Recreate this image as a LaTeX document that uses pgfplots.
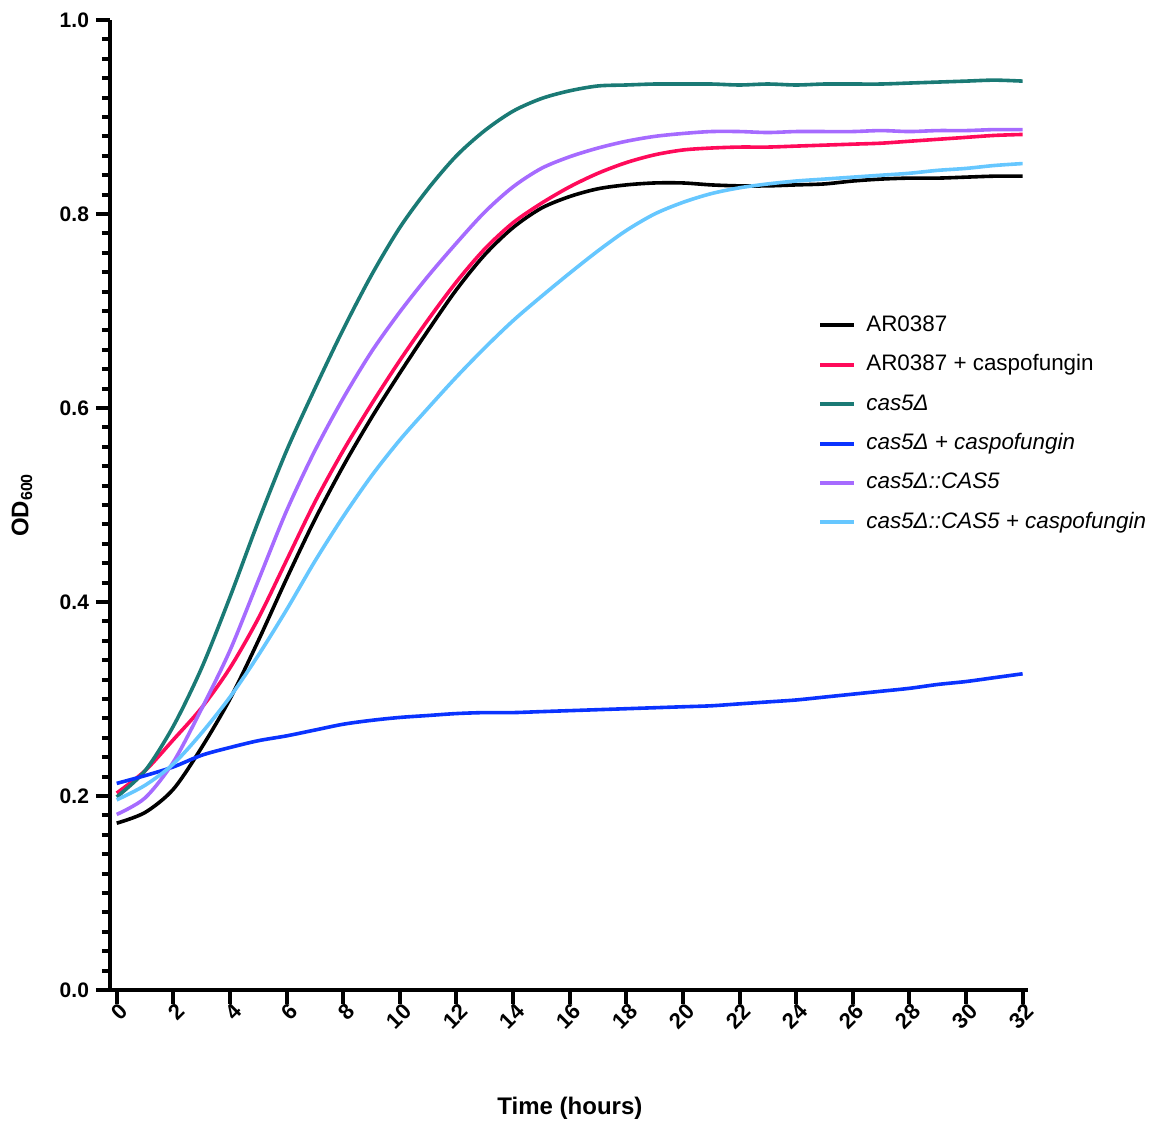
\documentclass[border=0pt]{standalone}
\usepackage{fontspec}
\setmainfont{Liberation Sans}
\usepackage{pgfplots}
\usepackage{pgfplotstable}
\pgfplotsset{compat=1.18}
\definecolor{cAR}{HTML}{000000}
\definecolor{cARc}{HTML}{FF0A5A}
\definecolor{cCas}{HTML}{1A7A75}
\definecolor{cCasc}{HTML}{0A33FF}
\definecolor{cComp}{HTML}{A66BFF}
\definecolor{cCompc}{HTML}{66C7FF}

% OD600 over time, one column per strain / condition
\pgfplotstableread{
t  ar    arc   cas   casc  comp  compc
0  0.172 0.203 0.199 0.213 0.181 0.196
1  0.183 0.226 0.226 0.221 0.198 0.211
2  0.207 0.258 0.272 0.230 0.235 0.233
3  0.250 0.291 0.332 0.242 0.290 0.265
4  0.300 0.332 0.405 0.250 0.350 0.302
5  0.360 0.383 0.483 0.257 0.422 0.345
6  0.424 0.443 0.556 0.262 0.494 0.392
7  0.485 0.503 0.620 0.268 0.556 0.442
8  0.540 0.556 0.681 0.274 0.610 0.488
9  0.590 0.604 0.737 0.278 0.658 0.530
10 0.636 0.649 0.786 0.281 0.699 0.567
11 0.680 0.691 0.826 0.283 0.736 0.600
12 0.722 0.730 0.860 0.285 0.770 0.632
13 0.758 0.764 0.886 0.286 0.802 0.662
14 0.786 0.791 0.906 0.286 0.828 0.690
15 0.806 0.811 0.919 0.287 0.847 0.715
16 0.818 0.828 0.927 0.288 0.859 0.739
17 0.826 0.842 0.932 0.289 0.868 0.762
18 0.830 0.853 0.933 0.290 0.875 0.783
19 0.832 0.861 0.934 0.291 0.880 0.800
20 0.832 0.866 0.934 0.292 0.883 0.812
21 0.830 0.868 0.934 0.293 0.885 0.821
22 0.829 0.869 0.933 0.295 0.885 0.827
23 0.829 0.869 0.934 0.297 0.884 0.831
24 0.830 0.870 0.933 0.299 0.885 0.834
25 0.831 0.871 0.934 0.302 0.885 0.836
26 0.834 0.872 0.934 0.305 0.885 0.838
27 0.836 0.873 0.934 0.308 0.886 0.840
28 0.837 0.875 0.935 0.311 0.885 0.842
29 0.837 0.877 0.936 0.315 0.886 0.845
30 0.838 0.879 0.937 0.318 0.886 0.847
31 0.839 0.881 0.938 0.322 0.887 0.850
32 0.839 0.882 0.937 0.326 0.887 0.852
}\growth

\begin{document}
\begin{tikzpicture}
\path[use as bounding box] (-55pt,-65.5pt) rectangle (522.5pt,495pt);
\begin{axis}[
  at={(0,0)}, anchor=south west,
  scale only axis, width=459pt, height=485pt,
  xmin=-0.237, xmax=32.19, ymin=0, ymax=1,
  axis lines=left, axis line style={-, line width=2pt},
  xtick={0,2,...,32}, ytick={0,0.2,0.4,0.6,0.8,1},
  minor y tick num=9,
  tick align=outside, tick style={line width=2pt, black},
  major tick length=7pt, minor tick length=4pt,
  /pgf/number format/assume math mode=true,
  yticklabel style={/pgf/number format/.cd, fixed, fixed zerofill, precision=1},
  ticklabel style={font=\bfseries\fontsize{10.5}{12}\selectfont},
  xticklabel style={rotate=45, anchor=east, xshift=2.5pt, yshift=-4pt, inner sep=1pt,
    font=\bfseries\fontsize{11}{12}\selectfont},
  xlabel={\textbf{Time (hours)}}, ylabel={\textbf{OD\textsubscript{600}}},
  label style={font=\fontsize{12}{14}\selectfont},
  xlabel style={at={(axis description cs:0.501,-0.1216)}, anchor=center},
  ylabel style={at={(axis description cs:-0.0959,0.5)}, anchor=center},
  every axis plot/.append style={line width=1.8pt, smooth},
  legend image code/.code={\draw[#1, line width=2pt] (0pt,0pt) -- (17pt,0pt);},
  legend style={at={(rel axis cs:0.7712,0.698)}, anchor=north west, draw=none, fill=none,
    inner sep=0pt, column sep=5pt, row sep=7.7pt,
    font=\fontsize{11.2}{13}\selectfont,
    nodes={inner sep=0pt, text height=9pt, text depth=3pt}},
  legend cell align=left,
]
\addplot[cAR] table[x=t, y=ar] {\growth};
\addplot[cARc] table[x=t, y=arc] {\growth};
\addplot[cCas] table[x=t, y=cas] {\growth};
\addplot[cCasc] table[x=t, y=casc] {\growth};
\addplot[cComp] table[x=t, y=comp] {\growth};
\addplot[cCompc] table[x=t, y=compc] {\growth};
\legend{AR0387, AR0387 + caspofungin, \textit{cas5Δ}, \textit{cas5Δ + caspofungin},
  \textit{cas5Δ::CAS5}, \textit{cas5Δ::CAS5 + caspofungin}}
\end{axis}
\end{tikzpicture}
\end{document}
